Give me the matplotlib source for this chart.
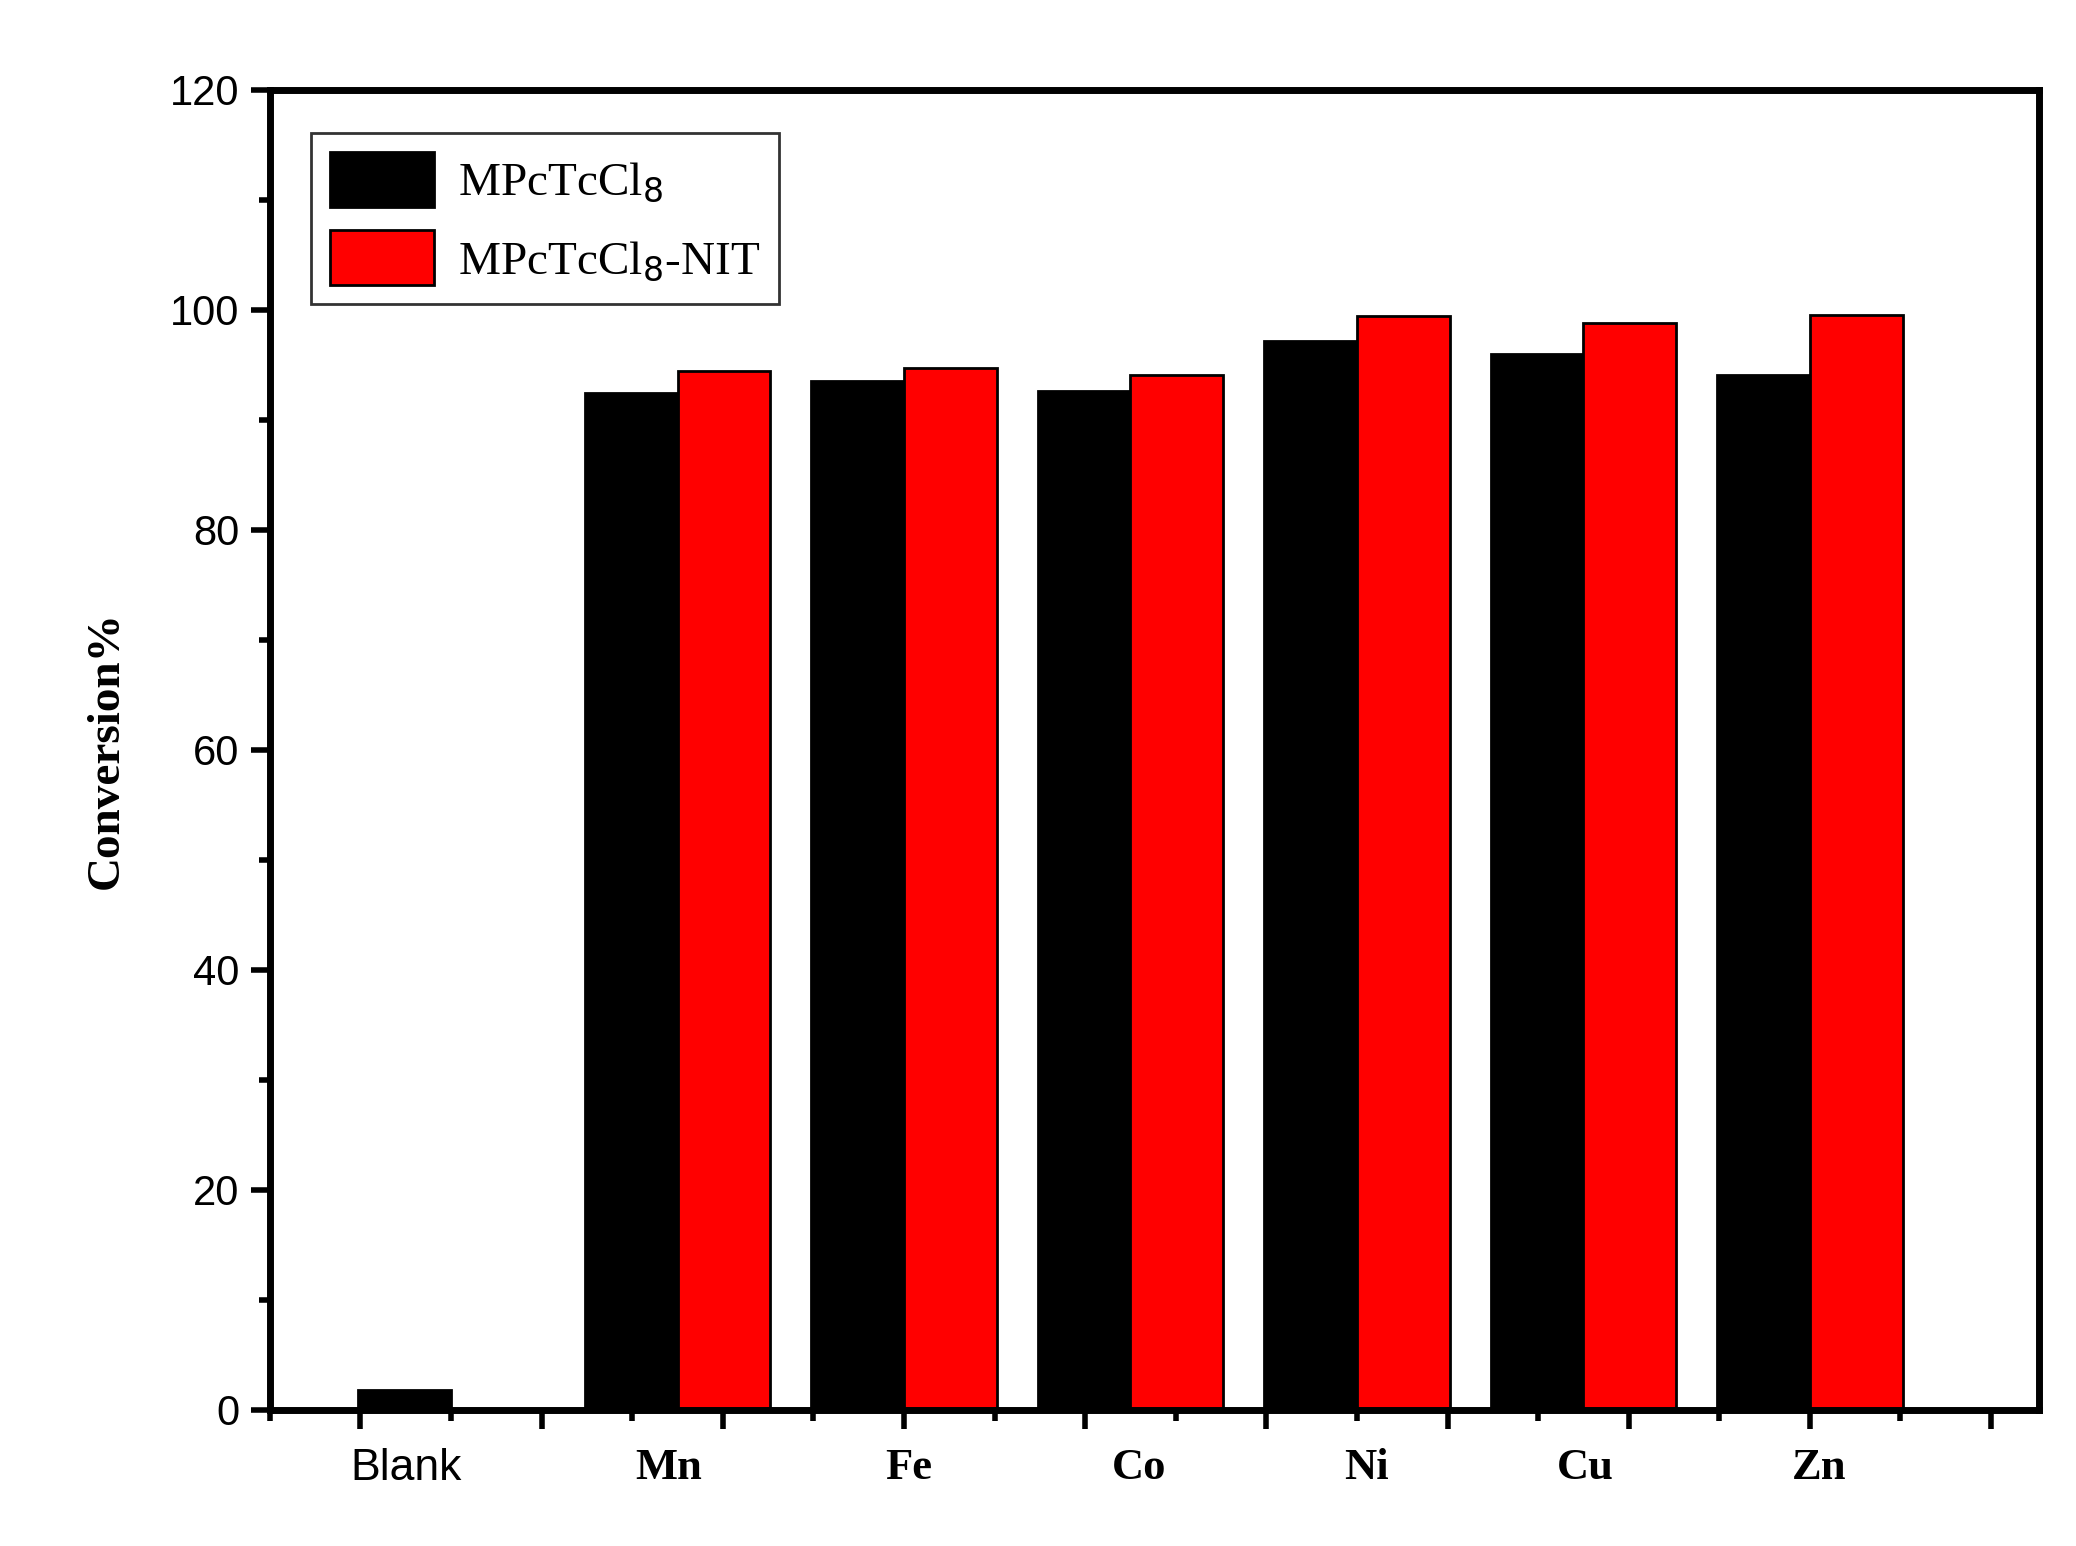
import matplotlib
matplotlib.use("Agg")
import matplotlib.pyplot as plt
import numpy as np

categories = ["Blank", "Mn", "Fe", "Co", "Ni", "Cu", "Zn"]
mpc = [1.8, 92.4, 93.5, 92.6, 97.2, 96.0, 94.1]
mpc_nit = [np.nan, 94.4, 94.7, 94.1, 99.4, 98.8, 99.5]

fig = plt.figure(figsize=(20.76, 15.46), dpi=100)
ax = fig.add_axes([0.130, 0.088, 0.852, 0.854])
x = np.arange(len(categories))
w = 0.41
ax.bar(x - w/2, mpc, w, color="black", edgecolor="black", linewidth=2, label="MPcTcCl$_8$")
ax.bar(x + w/2, mpc_nit, w, color="#ff0000", edgecolor="black", linewidth=2, label="MPcTcCl$_8$-NIT")

ax.set_xlim(-0.8, 7.01)
ax.set_ylim(0, 120)
for s in ax.spines.values():
    s.set_linewidth(5)
ax.set_yticks(np.arange(0, 121, 20))
ax.set_yticks(np.arange(0, 121, 10), minor=True)
ax.tick_params(axis="y", which="major", length=14, width=4, labelsize=30, direction="out", pad=8)
ax.tick_params(axis="y", which="minor", length=8, width=4, direction="out")
for lab in ax.get_yticklabels():
    lab.set_fontfamily("Liberation Sans")
ax.set_xticks(np.arange(-0.4, 7.0, 0.8))
ax.set_xticks(np.arange(-0.8, 7.0, 0.8), minor=True)
ax.tick_params(axis="x", which="major", length=14, width=4, direction="out", labelbottom=False)
ax.tick_params(axis="x", which="minor", length=8, width=4, direction="out")

label_pos = [-0.2, 0.96, 2.02, 3.04, 4.04, 5.01, 6.04]
for p, c in zip(label_pos, categories):
    if c == "Blank":
        ax.text(p, -3.5, c, ha="center", va="top", fontsize=32, family="Liberation Sans",
                transform=ax.transData)
    else:
        ax.text(p, -3.5, c, ha="center", va="top", fontsize=32, family="Liberation Serif",
                fontweight="bold", transform=ax.transData)

ax.set_ylabel("Conversion%", fontsize=34, family="Liberation Serif", fontweight="bold", labelpad=30)

leg = ax.legend(loc="upper left", bbox_to_anchor=(0.01, 0.985), prop={"family": "Liberation Serif", "size": 34},
                fancybox=False, edgecolor="black", handlelength=2.2, handleheight=1.4,
                borderpad=0.4, labelspacing=0.5, handletextpad=0.5)
leg.get_frame().set_linewidth(2)
fig.savefig("out.png", dpi=100)
